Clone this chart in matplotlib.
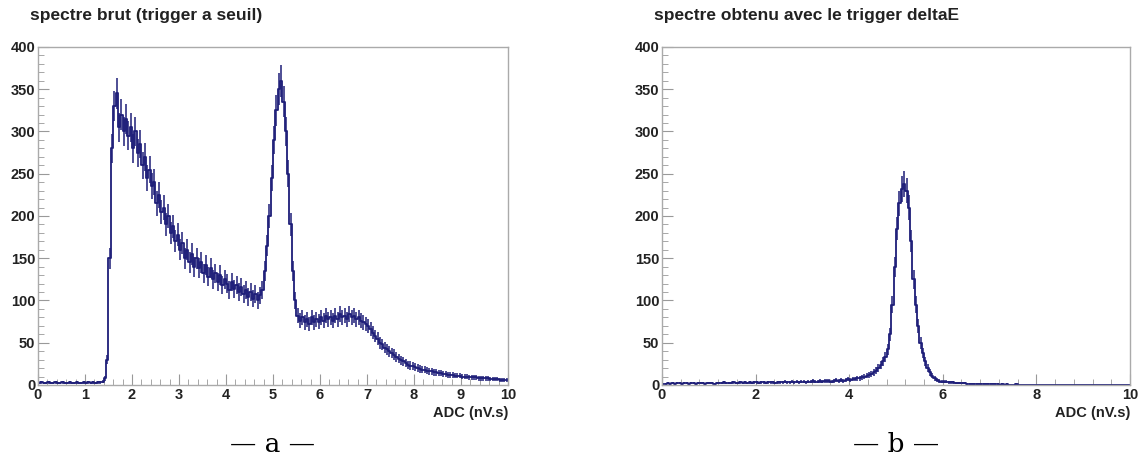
import numpy as np
import matplotlib.pyplot as plt
from matplotlib.ticker import MultipleLocator

# ───── Histogram contents (bins of 0.05 nV.s, from 0 to 10) ─────
edges = np.linspace(0, 10, 201)
centers = 0.5 * (edges[:-1] + edges[1:])

# raw spectrum (threshold trigger)
counts_a = [
    2, 3, 2, 2, 3, 2, 2, 3, 2, 2, 3, 2, 2, 3, 2, 2, 3, 2, 2, 3,
    2, 3, 2, 3, 2, 3, 3, 4, 8, 30, 150, 280, 330, 345, 305, 320, 300, 315, 295, 305,
    280, 300, 275, 285, 260, 270, 245, 255, 235, 240, 215, 225, 205, 210, 190, 200, 180, 188, 170, 178,
    160, 168, 150, 160, 145, 155, 140, 150, 138, 145, 132, 142, 128, 138, 125, 132, 122, 130, 118, 125,
    120, 112, 122, 114, 118, 110, 116, 108, 112, 104, 110, 102, 108, 100, 106, 112, 135, 165, 200, 245,
    290, 325, 350, 360, 335, 300, 250, 190, 135, 100, 82, 76, 80, 74, 78, 72, 80, 74, 78, 75,
    80, 76, 82, 78, 80, 76, 82, 78, 84, 80, 82, 78, 84, 80, 82, 78, 80, 76, 74, 72,
    70, 66, 62, 58, 55, 50, 48, 44, 42, 40, 38, 36, 33, 31, 29, 28, 26, 24, 23, 22,
    21, 20, 19, 18, 18, 17, 16, 16, 15, 15, 14, 14, 13, 13, 12, 12, 12, 11, 11, 11,
    10, 10, 10, 9, 9, 9, 9, 8, 8, 8, 8, 8, 7, 7, 7, 7, 6, 6, 6, 6,
]

# spectrum with the deltaE trigger
counts_b = [
    1, 1, 2, 1, 2, 1, 2, 2, 1, 2, 2, 1, 2, 2, 1, 2, 2, 2, 1, 2,
    2, 2, 1, 2, 2, 2, 3, 2, 2, 2, 3, 2, 2, 3, 2, 3, 2, 3, 2, 3,
    3, 2, 3, 3, 2, 3, 3, 3, 2, 3, 3, 3, 4, 3, 3, 4, 3, 4, 3, 4,
    4, 3, 4, 4, 5, 4, 4, 5, 4, 5, 5, 5, 4, 5, 6, 5, 6, 5, 6, 7,
    6, 7, 7, 8, 8, 9, 10, 11, 12, 13, 15, 17, 20, 24, 28, 33, 42, 60, 95, 140,
    185, 215, 232, 238, 230, 210, 170, 125, 95, 70, 50, 38, 28, 20, 15, 11, 8, 6, 5, 4,
    4, 4, 3, 3, 3, 2, 2, 2, 2, 2, 1, 1, 1, 1, 1, 1, 1, 1, 1, 1,
    1, 1, 1, 1, 0, 1, 0, 1, 0, 0, 0, 1, 0, 0, 0, 0, 0, 0, 0, 0,
    0, 0, 0, 0, 0, 0, 0, 0, 0, 0, 0, 0, 0, 0, 0, 0, 0, 0, 0, 0,
    0, 0, 0, 0, 0, 0, 0, 0, 0, 0, 0, 0, 0, 0, 0, 0, 0, 0, 0, 0,
]

titles = ["spectre brut (trigger a seuil)", "spectre obtenu avec le trigger deltaE"]
captions = ["— a —", "— b —"]

col = "#1e1e78"
tick_font = dict(family="Liberation Sans", weight="bold", size=10.5)

fig = plt.figure(figsize=(11.4, 4.68), dpi=100)
ax_a = fig.add_axes([0.0333, 0.1774, 0.4123, 0.7222])
ax_b = fig.add_axes([0.5807, 0.1774, 0.4105, 0.7222])

for ax, counts, title, cap, xmaj, xmin in [
    (ax_a, counts_a, titles[0], captions[0], 1, 0.2),
    (ax_b, counts_b, titles[1], captions[1], 2, 0.4),
]:
    y = np.array(counts, float)
    ax.step(edges, np.append(y, y[-1]), where="post", color=col, lw=1.3)
    ax.errorbar(centers, y, yerr=np.sqrt(y), fmt="none", ecolor=col,
                elinewidth=1.1)
    ax.set_xlim(0, 10)
    ax.set_ylim(0, 400)
    ax.xaxis.set_major_locator(MultipleLocator(xmaj))
    ax.xaxis.set_minor_locator(MultipleLocator(xmin))
    ax.yaxis.set_major_locator(MultipleLocator(50))
    ax.yaxis.set_minor_locator(MultipleLocator(10))
    ax.tick_params(which="both", direction="in", color="#999999",
                   top=False, right=False, pad=2)
    ax.tick_params(which="major", length=8)
    ax.tick_params(which="minor", length=4)
    for lab in ax.get_xticklabels() + ax.get_yticklabels():
        lab.set_fontproperties(tick_font)
        lab.set_color("#222222")
    for s in ax.spines.values():
        s.set_color("#aaaaaa")
        s.set_linewidth(1.0)
    ax.set_xlabel("ADC (nV.s)", loc="right", fontdict=tick_font,
                  color="#222222", labelpad=3)
    # title above the frame, left aligned
    ax.text(-0.017, 1.07, title, transform=ax.transAxes, ha="left", va="bottom",
            family="Liberation Sans", weight="bold", size=12.5, color="#222222")
    ax.text(0.5, -0.14, cap, transform=ax.transAxes, ha="center", va="top",
            family="DejaVu Serif", size=19, color="black")

fig.savefig("out.png", dpi=100)
